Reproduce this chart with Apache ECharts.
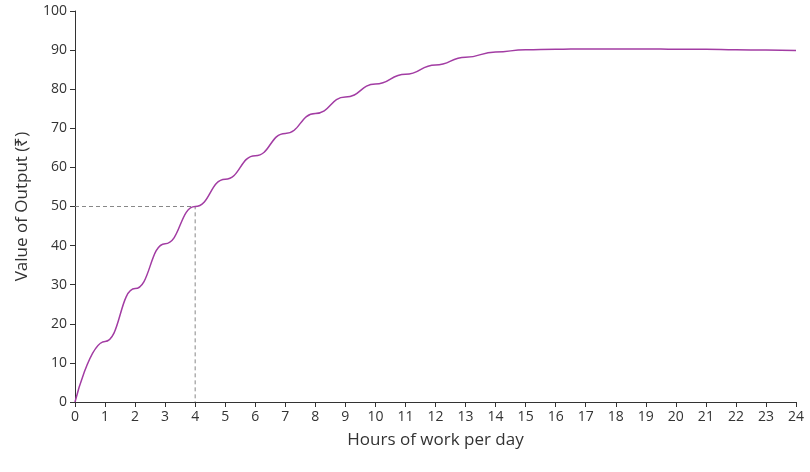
<!DOCTYPE html>
<html>
<head>
<meta charset="utf-8">
<script src="https://cdn.jsdelivr.net/npm/echarts@6/dist/echarts.min.js"></script>
<style>html,body{margin:0;padding:0;background:#fff}#chart{width:810px;height:472px}</style>
</head>
<body>
<div id="chart"></div>
<script>
// hours of work per day
var hours = [0, 1, 2, 3, 4, 5, 6, 7, 8, 9, 10, 11, 12, 13, 14, 15, 16, 17, 18, 19, 20, 21, 22, 23, 24];
// value of output (rupees)
var output = [0, 15.5, 29, 40.5, 50, 57, 63, 68.7, 73.8, 78, 81.3, 83.8, 86.2, 88.2, 89.5, 90.1, 90.2, 90.3, 90.3, 90.3, 90.2, 90.2, 90.1, 90, 89.9];
var guideX = 4, guideY = 50;

var chart = echarts.init(document.getElementById('chart'));
var txt = { color: '#333', fontSize: 14, fontFamily: 'Open Sans' };

chart.setOption({
  animation: false,
  grid: { left: 75, right: 14, top: 11, bottom: 70 },
  xAxis: {
    type: 'value', min: 0, max: 24, interval: 1,
    name: 'Hours of work per day', nameLocation: 'middle', nameGap: 30,
    nameTextStyle: { color: '#333', fontSize: 17, fontFamily: 'Open Sans' },
    axisLine: { lineStyle: { color: '#333' } },
    axisTick: { show: true, lineStyle: { color: '#333' } },
    axisLabel: txt,
    splitLine: { show: false }
  },
  yAxis: {
    type: 'value', min: 0, max: 100, interval: 10,
    name: 'Value of Output (₹)', nameLocation: 'middle', nameGap: 44,
    nameTextStyle: { color: '#333', fontSize: 17, fontFamily: 'Open Sans' },
    axisLine: { show: true, lineStyle: { color: '#333' } },
    axisTick: { show: true, lineStyle: { color: '#333' } },
    axisLabel: txt,
    splitLine: { show: false }
  },
  series: [
    {
      type: 'line',
      data: [[0, guideY], [guideX, guideY], [guideX, 0]],
      symbol: 'none',
      lineStyle: { color: '#888', width: 1, type: [4, 3] }
    },
    {
      type: 'line',
      data: hours.map(function (h, i) { return [h, output[i]]; }),
      smooth: 0.5,
      smoothMonotone: 'x',
      symbol: 'none',
      lineStyle: { color: '#a23ca3', width: 1.5 }
    }
  ]
});
</script>
</body>
</html>
